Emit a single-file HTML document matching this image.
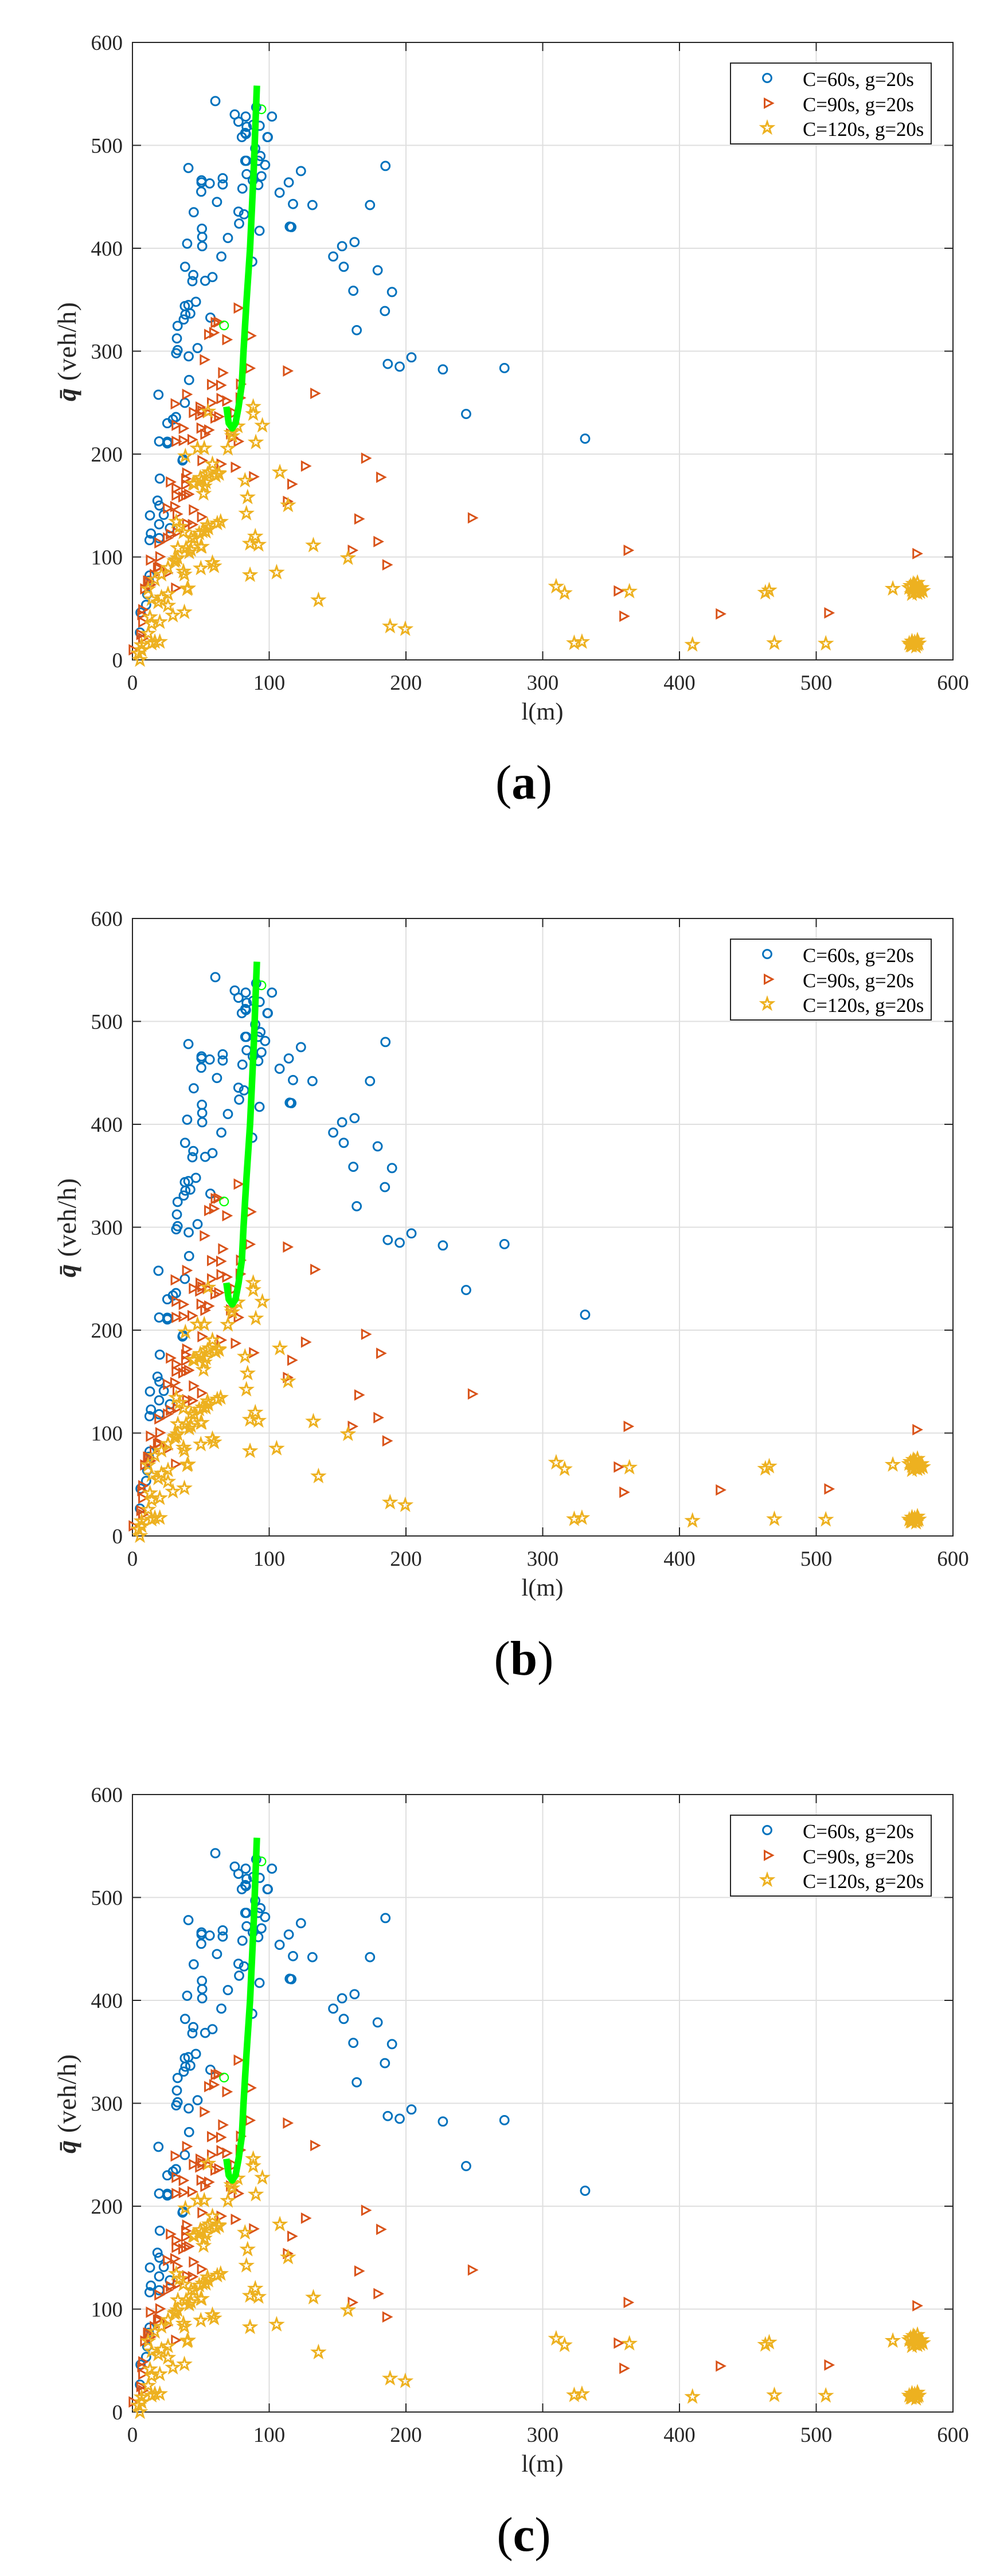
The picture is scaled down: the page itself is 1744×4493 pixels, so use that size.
<!DOCTYPE html>
<html>
<head>
<meta charset="utf-8">
<title>Flow versus spacing scatter panels</title>
<style>
html,body{margin:0;padding:0;background:#fff;}
svg{display:block;font-family:"Liberation Serif",serif;}
.tick{font-size:37px;fill:#262626;}
.leg{font-size:34.8px;fill:#000;}
.xl{font-size:42.4px;fill:#262626;text-anchor:middle;}
.yl{font-size:46px;fill:#262626;}
.cap{font-size:85px;fill:#000;text-anchor:middle;}
</style>
</head>
<body>
<svg id="figure" xmlns="http://www.w3.org/2000/svg" width="1744" height="4493" viewBox="0 0 1744 4493">
<rect width="1744" height="4493" fill="#fff"/>

<g id="panel-a" transform="translate(0,0)">
  <g class="plot"></g>
  <g>
    <rect x="1274" y="110" width="350" height="141" fill="#fff" stroke="#262626" stroke-width="2"/>
    <circle cx="1338" cy="136" r="7.4" fill="none" stroke="#0072BD" stroke-width="3"/>
    <polygon points="1333.5,172.5 1347.5,180 1333.5,187.5" fill="none" stroke="#D95319" stroke-width="3"/>
    <polygon points="1338,212.5 1340.5,219.8 1348,219.8 1342,224.4 1344.2,231.5 1338,227.1 1331.8,231.5 1334,224.4 1328,219.8 1335.5,219.8" fill="none" stroke="#EDB120" stroke-width="3"/>
    <text class="leg" x="1400" y="150">C=60s, g=20s</text>
    <text class="leg" x="1400" y="194">C=90s, g=20s</text>
    <text class="leg" x="1400" y="237">C=120s, g=20s</text>
  </g>
  <text class="xl" x="946" y="1255">l(m)</text>
  <text class="yl" transform="translate(132,700) rotate(-90)" textLength="173"><tspan font-style="italic" font-weight="700">q&#772;</tspan> (veh/h)</text>
  <text class="cap" x="913.5" y="1393">(<tspan font-weight="700">a</tspan>)</text>
</g>

<g id="panel-b" transform="translate(0,1528)">
  <g class="plot"></g>
  <g>
    <rect x="1274" y="110" width="350" height="141" fill="#fff" stroke="#262626" stroke-width="2"/>
    <circle cx="1338" cy="136" r="7.4" fill="none" stroke="#0072BD" stroke-width="3"/>
    <polygon points="1333.5,172.5 1347.5,180 1333.5,187.5" fill="none" stroke="#D95319" stroke-width="3"/>
    <polygon points="1338,212.5 1340.5,219.8 1348,219.8 1342,224.4 1344.2,231.5 1338,227.1 1331.8,231.5 1334,224.4 1328,219.8 1335.5,219.8" fill="none" stroke="#EDB120" stroke-width="3"/>
    <text class="leg" x="1400" y="150">C=60s, g=20s</text>
    <text class="leg" x="1400" y="194">C=90s, g=20s</text>
    <text class="leg" x="1400" y="237">C=120s, g=20s</text>
  </g>
  <text class="xl" x="946" y="1255">l(m)</text>
  <text class="yl" transform="translate(132,700) rotate(-90)" textLength="173"><tspan font-style="italic" font-weight="700">q&#772;</tspan> (veh/h)</text>
  <text class="cap" x="913.5" y="1393">(<tspan font-weight="700">b</tspan>)</text>
</g>

<g id="panel-c" transform="translate(0,3056)">
  <g class="plot"></g>
  <g>
    <rect x="1274" y="110" width="350" height="141" fill="#fff" stroke="#262626" stroke-width="2"/>
    <circle cx="1338" cy="136" r="7.4" fill="none" stroke="#0072BD" stroke-width="3"/>
    <polygon points="1333.5,172.5 1347.5,180 1333.5,187.5" fill="none" stroke="#D95319" stroke-width="3"/>
    <polygon points="1338,212.5 1340.5,219.8 1348,219.8 1342,224.4 1344.2,231.5 1338,227.1 1331.8,231.5 1334,224.4 1328,219.8 1335.5,219.8" fill="none" stroke="#EDB120" stroke-width="3"/>
    <text class="leg" x="1400" y="150">C=60s, g=20s</text>
    <text class="leg" x="1400" y="194">C=90s, g=20s</text>
    <text class="leg" x="1400" y="237">C=120s, g=20s</text>
  </g>
  <text class="xl" x="946" y="1255">l(m)</text>
  <text class="yl" transform="translate(132,700) rotate(-90)" textLength="173"><tspan font-style="italic" font-weight="700">q&#772;</tspan> (veh/h)</text>
  <text class="cap" x="913.5" y="1393">(<tspan font-weight="700">c</tspan>)</text>
</g>
</svg>

<script>
const xTicks = [0, 100, 200, 300, 400, 500, 600];
const yTicks = [0, 100, 200, 300, 400, 500, 600];

const c60L = [60.6,90.5,74.8,82.8,102,77.5,88.3,93,83.5,82.5,80,83,98.7,99,89.8,93.6,92,82.5,83.3,97,40.9,83.5,94.3,88,50.5,66,50.5,56.5,66,92,80.4,50.3,107.6,114.3,123.2,185,61.8,117.4,131.6,173.7,77.5,81.6,44.8,78,115,116.2,50.8,92.9,51,69.8,40,51,162.4,153.3,65,146.8,87.6,38.5,154.5,179.3,44.5,58.5,43.8,53.2,161.5,189.8,46.4,38.3,40.9,184.6,42.3,38.7,37.5,57,33,164,32.5,47.6,33,32,41.1,204,186.7,195.4,227,272,41.4,19,331,244,38.3,31.8,29.6,25.5,19.5,26.2,25.5,25.5,36.6,37,20,18.3,19.7,22.9,12.8,19.5,27.4,13.5,19.5,12.5,12.5,12,10.8,10,5.9,5.5];
const c60Q = [543,537,530,528,528,523,520,519,518,512,508,511,508,508,497,489.6,485,485,485,481,478,472,470,466,466,468,464,463,462,461.5,458,455,454,464,475,480,445,443,442,442,435.6,433,435,424,421,420.6,419,417,411,410,404.5,402,406,402,392,392,387,382,382,378.6,374,372,368,368.4,358.7,357.5,348,343.8,344.8,339,336.6,335.6,330.8,332.6,324.6,320.4,312.4,303,301,298,295,294,287.6,285,282.3,283.6,272,257.7,215,239,249.8,236,233.6,230,212.3,211.4,212,210.4,193.8,195,176.2,154.8,150,141,140.4,131.8,128,122.8,118.3,116.4,82,77,63.7,53.5,46,26.6];

const c90L = [77.8,61,63.1,56.2,59.9,69.4,86.9,53,66.4,86.2,58.3,65,79.5,40.1,31.7,79.2,58.3,65.2,69.4,49.9,45,51.3,49.6,55.2,60.8,63.5,75,32.4,37.6,50.6,56.2,53.4,32.4,37.6,44,73.6,77.8,72.2,51.3,65.2,75.7,113.8,133.8,171,182,127,117,89,113.8,166,249,180,161.2,186.5,362.9,574.1,355.7,359.8,430.3,509.6,28.2,40.1,39.4,32.4,32.4,39.4,39.4,41.5,37.3,26.1,31.4,33.1,45,51,13.6,20.5,19.8,44.3,40.1,33.1,26.1,19.8,28.2,32,12.2,9.4,13.6,8,7.3,8,6.6,8,1,26,18.8,11.5,16.4];
const c90Q = [341.9,327.8,328.3,316.2,318,311.2,315,291.7,279,283.4,267.6,266.9,268,258,248.8,254.6,249.8,254,251.6,245.7,240.5,242,238,240.5,235,236.4,240,228,225,225.3,223.4,219.3,212.3,213.2,214.1,216,212.3,219.7,193.7,190.3,187.2,280.8,259,196,177.5,188.4,170.8,178,154,137,138,115,106.5,92.4,106.5,103.3,67,42.5,44.7,45.7,172.9,181.6,176,166.8,160,170.5,160,161,158.4,147.3,149,141.7,145.8,138.9,97,100.3,90.6,131.5,132.4,124,118.5,113.8,122.2,69.8,76.7,69,73,48.8,44,36.8,24.7,21,9.8,84.7,89.5,76.7,83];

const c120L = [88.3,88.3,95,90.2,107.8,82.3,84.2,83.3,113.8,89.8,86,92.2,132.3,157.6,105.4,86,136,188.4,199.5,72.4,77,73,69.8,55.3,38.7,47.6,52.5,58.5,54.9,60.9,63.3,45.2,50.5,53.7,52,32,34.4,64.5,62,54.9,53.7,48.8,45.2,50,42.8,39.2,33.2,58.5,59.7,50,38,40,40.6,30.8,33,26,21.2,16.4,11.5,26,21.2,14,18.8,26,29.6,38,20,12.8,14,11.5,16.4,20,14,6.7,5.5,4.3,6.7,56.2,63.1,49.6,52.7,44.3,55.5,51.3,42.9,50.6,41.5,37.3,31.7,37.3,309.8,316,323,328.7,363.4,409.5,462.8,465.6,469.4,507,556,568,569,570,571,572,573,574,575,576,577,578,570,572,574,576,573,568,569,570,571,572,573,574,575,570,572,574];
const c120Q = [246,239,227.7,211.4,182.3,174.3,158,142.3,150.3,120,113,112,111.3,99,85,82.5,58,32.6,30,220.6,227,217.5,205.3,241.4,198,205.6,205.6,190.3,180.7,179,180.7,171,174.3,172.7,161.5,134.3,129.5,134.3,132.7,131,124.7,123,118,110,107,108.7,108.7,94.3,91,89,83,68.8,69.6,96,99,89.5,83,78,68.8,64,60.8,59,56,52.8,43.2,46.4,36.8,41.6,35,25.6,17.6,17.6,16,14.4,0,6.4,9.6,182.5,181.6,177,168.6,171.4,127.8,125,118.5,110,104.5,124,97,86,71.3,65,16.4,17.5,66.5,14.8,65.4,67.6,16.4,15.9,69.2,70,72,68,74,66,71,75,69,66,70,67,64,73,65,70,68,16,14,18,15,17,13,19,16,14,17,15,18];

const trendL = [91,88.8,86,83.5,81.2,80,77.6,75.4,73,70.4,68.7];
const trendQ = [558,480,400,350,300,268,246,230,225,230,246];

const ringL = [94.3, 67];
const ringQ = [535, 325];

const NS = 'http://www.w3.org/2000/svg';
const X0 = 231, XW = 1431, Y0 = 1151, YH = 1077, XMAX = 600, YMAX = 600;
const sx = function (v) { return X0 + v / XMAX * XW; };
const sy = function (v) { return Y0 - v / YMAX * YH; };

function mk(tag, attrs, parent) {
  const el = document.createElementNS(NS, tag);
  for (const k in attrs) el.setAttribute(k, attrs[k]);
  parent.appendChild(el);
  return el;
}

function starPoints(cx, cy) {
  const pts = [];
  for (let i = 0; i < 10; i++) {
    const r = i % 2 === 0 ? 10.5 : 4.2;
    const a = -Math.PI / 2 + i * Math.PI / 5;
    pts.push((cx + r * Math.cos(a)).toFixed(1) + ',' + (cy + r * Math.sin(a)).toFixed(1));
  }
  return pts.join(' ');
}

function triPoints(cx, cy) {
  return (cx - 7.5) + ',' + (cy - 7.5) + ' ' + (cx + 6.5) + ',' + cy + ' ' + (cx - 7.5) + ',' + (cy + 7.5);
}

function drawPanel(plot) {
  xTicks.forEach(function (t) {
    if (t === 0 || t === XMAX) return;
    const g = mk('line', {x1: sx(t), x2: sx(t), y1: sy(0), y2: sy(YMAX), stroke: '#dfdfdf', 'stroke-width': 2}, plot);
    
    
  });
  yTicks.forEach(function (t) {
    if (t === 0 || t === YMAX) return;
    const g = mk('line', {x1: sx(0), x2: sx(XMAX), y1: sy(t), y2: sy(t), stroke: '#dfdfdf', 'stroke-width': 2}, plot);
    
    
  });

  const frame = mk('rect', {x: sx(0), y: sy(YMAX), width: XW, height: YH, fill: 'none', stroke: '#262626', 'stroke-width': 2}, plot);
  
  

  xTicks.forEach(function (t) {
    if (t !== 0 && t !== XMAX) {
      const a = mk('line', {x1: sx(t), x2: sx(t), y1: sy(0), y2: sy(0) - 15, stroke: '#262626', 'stroke-width': 2}, plot);
      
      
      const b = mk('line', {x1: sx(t), x2: sx(t), y1: sy(YMAX), y2: sy(YMAX) + 15, stroke: '#262626', 'stroke-width': 2}, plot);
      
      
    }
    const lab = mk('text', {x: sx(t), y: sy(0) + 52, 'text-anchor': 'middle', class: 'tick'}, plot);
    lab.textContent = String(t);
    
    
  });

  yTicks.forEach(function (t) {
    if (t !== 0 && t !== YMAX) {
      const a = mk('line', {x1: sx(0), x2: sx(0) + 15, y1: sy(t), y2: sy(t), stroke: '#262626', 'stroke-width': 2}, plot);
      
      
      const b = mk('line', {x1: sx(XMAX), x2: sx(XMAX) - 15, y1: sy(t), y2: sy(t), stroke: '#262626', 'stroke-width': 2}, plot);
      
      
    }
    const lab = mk('text', {x: 214, y: sy(t) + 13, 'text-anchor': 'end', class: 'tick'}, plot);
    lab.textContent = String(t);
    
    
  });

  c60L.forEach(function (v, i) {
    const m = mk('circle', {cx: sx(v), cy: sy(c60Q[i]), r: 7.4, fill: 'none', stroke: '#0072BD', 'stroke-width': 3}, plot);
    
    
  });

  c90L.forEach(function (v, i) {
    const m = mk('polygon', {points: triPoints(sx(v), sy(c90Q[i])), fill: 'none', stroke: '#D95319', 'stroke-width': 3}, plot);
    
    
  });

  c120L.forEach(function (v, i) {
    const m = mk('polygon', {points: starPoints(sx(v), sy(c120Q[i])), fill: 'none', stroke: '#EDB120', 'stroke-width': 3, 'stroke-miterlimit': 10}, plot);
    
    
  });

  ringL.forEach(function (v, i) {
    const m = mk('circle', {cx: sx(v), cy: sy(ringQ[i]), r: 7.4, fill: 'none', stroke: '#00ff00', 'stroke-width': 2.2}, plot);
    
    
  });

  const pts = trendL.map(function (v, i) { return sx(v).toFixed(1) + ',' + sy(trendQ[i]).toFixed(1); }).join(' ');
  const tr = mk('polyline', {points: pts, fill: 'none', stroke: '#00ff00', 'stroke-width': 11.5, 'stroke-linejoin': 'round'}, plot);
  
  
}

document.querySelectorAll('.plot').forEach(drawPanel);
</script>
</body>
</html>
